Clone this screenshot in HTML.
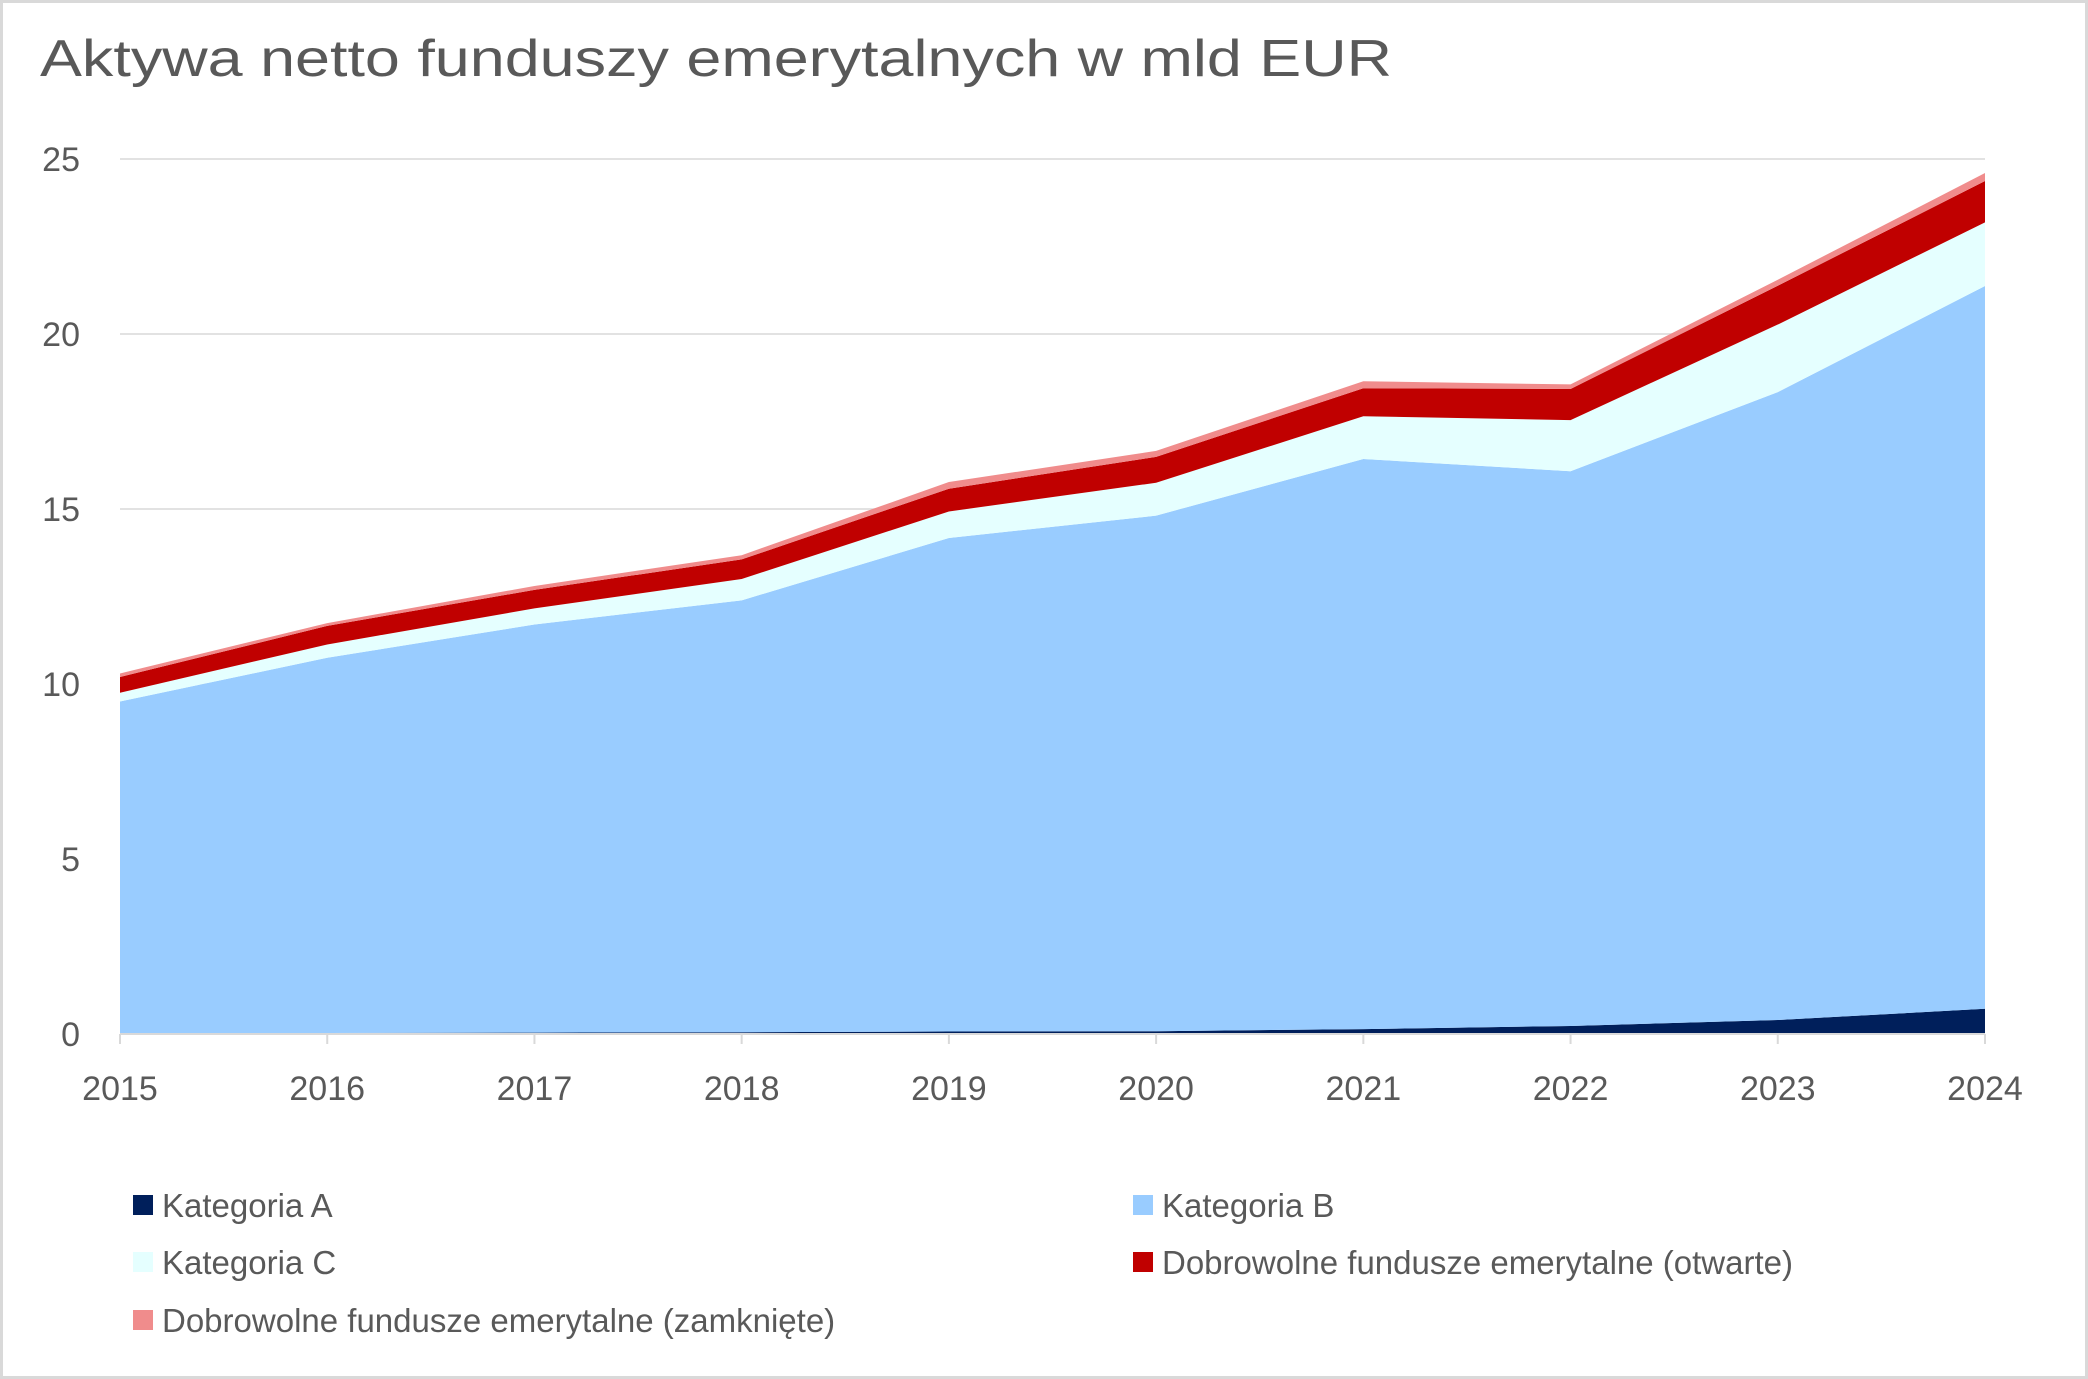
<!DOCTYPE html>
<html><head><meta charset="utf-8"><style>
html,body{margin:0;padding:0;background:#fff}
svg{display:block}
text{font-family:"Liberation Sans",sans-serif;fill:#595959}
</style></head><body>
<svg id="chart" width="2088" height="1379" viewBox="0 0 2088 1379" xmlns="http://www.w3.org/2000/svg">
<rect x="1.5" y="1.5" width="2085" height="1376" fill="#fff" stroke="#d9d9d9" stroke-width="3"/>
<text x="40" y="76" font-size="52" textLength="1352" lengthAdjust="spacingAndGlyphs">Aktywa netto funduszy emerytalnych w mld EUR</text>
<g id="grid"></g><g id="areas"></g><g id="axes"></g><g id="legend"></g>
</svg>
<script>
const years=[2015,2016,2017,2018,2019,2020,2021,2022,2023,2024];
const catA=[0.02,0.03,0.04,0.05,0.07,0.08,0.14,0.23,0.40,0.72];
const catB=[9.48,10.72,11.66,12.34,14.10,14.73,16.29,15.85,17.94,20.65];
const catC=[0.25,0.38,0.46,0.61,0.76,0.94,1.22,1.46,1.93,1.82];
const dobOpen=[0.45,0.53,0.53,0.56,0.65,0.74,0.80,0.89,1.11,1.18];
const dobClosed=[0.10,0.08,0.11,0.12,0.19,0.17,0.20,0.13,0.17,0.23];
const yTicks=[0,5,10,15,20,25];
const seriesNames=["Kategoria  A","Kategoria  B","Kategoria  C","Dobrowolne fundusze emerytalne (otwarte)","Dobrowolne fundusze emerytalne (zamknięte)"];
const colors=["#001f5b","#99ccff","#e5ffff","#c00000","#f08c8c"];
const ns="http://www.w3.org/2000/svg";
const x0=120,x1=1985,y0=1034,yTop=159,yMax=25;
const xs=i=>x0+(x1-x0)*i/(years.length-1);
const ys=v=>y0-(y0-yTop)*v/yMax;
function mk(t,a,p){const e=document.createElementNS(ns,t);for(const k in a)e.setAttribute(k,a[k]);p.appendChild(e);return e;}
const grid=document.getElementById('grid'),areas=document.getElementById('areas'),axes=document.getElementById('axes'),legend=document.getElementById('legend');
yTicks.forEach(v=>{
 if(v>0){const l=mk('line',{x1:x0,x2:x1,y1:ys(v),y2:ys(v),stroke:'#d9d9d9','stroke-width':1.5},grid);
 
 }
 const t=mk('text',{x:80,y:ys(v)+12,'font-size':34,'text-anchor':'end'},axes);t.textContent=v;
 
 
});
const series=[catA,catB,catC,dobOpen,dobClosed];
let base=years.map(()=>0);
series.forEach((s,si)=>{
 const top=base.map((b,i)=>b+s[i]);
 let d='M'+years.map((_,i)=>xs(i)+','+ys(top[i])).join(' L');
 for(let i=years.length-1;i>=0;i--)d+=' L'+xs(i)+','+ys(base[i]);
 d+='Z';
 const p=mk('path',{d:d,fill:colors[si]},areas);
 
 
 base=top;
});
const ax=mk('line',{x1:x0,x2:x1,y1:y0,y2:y0,stroke:'#d9d9d9','stroke-width':2},axes);


years.forEach((yr,i)=>{
 const tk=mk('line',{x1:xs(i),x2:xs(i),y1:y0,y2:y0+10,stroke:'#d9d9d9','stroke-width':2},axes);
 
 
 const t=mk('text',{x:xs(i),y:1100,'font-size':34,'text-anchor':'middle'},axes);t.textContent=yr;
 
 
});
const lpos=[[133,1205],[1133,1205],[133,1262],[1133,1262],[133,1320]];
seriesNames.forEach((n,i)=>{
 const g=mk('g',{},legend);
 
 
 const r=mk('rect',{x:lpos[i][0],y:lpos[i][1]-10,width:20,height:20,fill:colors[i]},g);
 
 
 const t=mk('text',{x:lpos[i][0]+29,y:lpos[i][1]+12,'font-size':33},g);t.textContent=n;
 
 
});
</script>
</body></html>
